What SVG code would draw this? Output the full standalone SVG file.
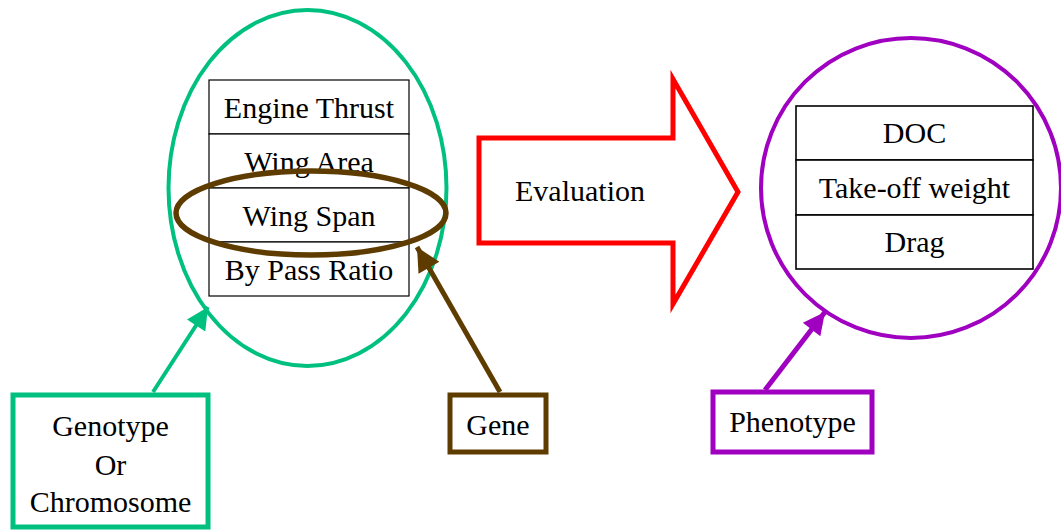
<svg xmlns="http://www.w3.org/2000/svg" width="1061" height="531" viewBox="0 0 1061 531">
<style>
text{font-family:"Liberation Serif","Times New Roman",serif;font-size:30px;fill:#000;text-anchor:middle}
.cell{fill:#fff;stroke:#000;stroke-width:1.2}
.cellp{fill:#fff;stroke:#000;stroke-width:1.6}
.green{stroke:#00C080}
.brown{stroke:#5E3C00}
.purple{stroke:#A000C0}
</style>
<defs>
<marker id="ag" viewBox="0 0 10 10" refX="10" refY="5" markerWidth="24" markerHeight="22" markerUnits="userSpaceOnUse" orient="auto"><path d="M0,0 L10,5 L0,10 z" fill="#00C080"/></marker>
<marker id="ab" viewBox="0 0 10 10" refX="10" refY="5" markerWidth="26" markerHeight="24" markerUnits="userSpaceOnUse" orient="auto"><path d="M0,0 L10,5 L0,10 z" fill="#5E3C00"/></marker>
<marker id="ap" viewBox="0 0 10 10" refX="10" refY="5" markerWidth="24" markerHeight="22" markerUnits="userSpaceOnUse" orient="auto"><path d="M0,0 L10,5 L0,10 z" fill="#A000C0"/></marker>
</defs>
<rect width="1061" height="531" fill="#fff"/>

<g id="chromosome">
<rect class="cell" x="209" y="80" width="200" height="54"/>
<rect class="cell" x="209" y="134" width="200" height="54"/>
<rect class="cell" x="209" y="188" width="200" height="54"/>
<rect class="cell" x="209" y="242" width="200" height="54"/>
<text x="309" y="118">Engine Thrust</text>
<text x="309" y="172">Wing Area</text>
<text x="309" y="226">Wing Span</text>
<text x="309" y="280">By Pass Ratio</text>
<ellipse cx="307.5" cy="188" rx="139" ry="178" fill="none" class="green" stroke-width="4"/>
</g>

<g id="gene-ellipse">
<ellipse cx="311" cy="213" rx="135" ry="42" fill="none" class="brown" stroke-width="5.5"/>
</g>

<g id="evaluation">
<path d="M479,138 H673 V79 L738,192 L673,304 V243 H479 Z" fill="#fff" stroke="#FF0000" stroke-width="5" stroke-linejoin="miter"/>
<text x="580" y="201">Evaluation</text>
</g>

<g id="phenotype-set">
<rect class="cellp" x="796" y="106" width="237" height="54"/>
<rect class="cellp" x="796" y="160" width="237" height="55"/>
<rect class="cellp" x="796" y="215" width="237" height="54"/>
<text x="914.5" y="143">DOC</text>
<text x="914.5" y="198">Take-off weight</text>
<text x="914.5" y="252">Drag</text>
<circle cx="911" cy="188" r="150" fill="none" class="purple" stroke-width="4"/>
</g>

<g id="genotype">
<rect x="13" y="395" width="195" height="132" fill="#fff" class="green" stroke-width="5"/>
<text x="110.5" y="436">Genotype</text>
<text x="110.5" y="475">Or</text>
<text x="110.5" y="512">Chromosome</text>
</g>

<g id="gene">
<rect x="450" y="395" width="96" height="57" fill="#fff" class="brown" stroke-width="5"/>
<text x="498" y="435">Gene</text>
</g>

<g id="phenotype">
<rect x="713" y="392" width="159" height="60" fill="#fff" class="purple" stroke-width="5"/>
<text x="792.5" y="432">Phenotype</text>
</g>

<g id="connectors" fill="none">
<line x1="153" y1="392" x2="208" y2="307" class="green" stroke-width="4" marker-end="url(#ag)"/>
<line x1="500" y1="392" x2="417" y2="247" class="brown" stroke-width="5" marker-end="url(#ab)"/>
<line x1="765" y1="390" x2="825" y2="312" class="purple" stroke-width="5" marker-end="url(#ap)"/>
</g>
</svg>
